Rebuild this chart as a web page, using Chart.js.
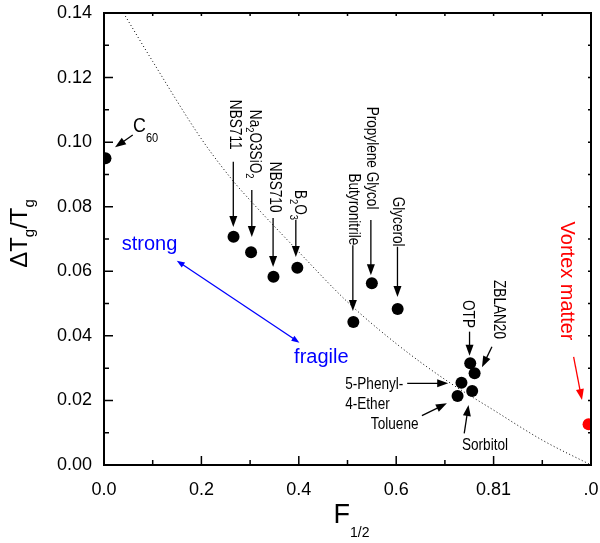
<!DOCTYPE html>
<html><head><meta charset="utf-8">
<script src="https://cdn.jsdelivr.net/npm/chart.js@4.4.0/dist/chart.umd.min.js"></script>
<style>html,body{margin:0;padding:0;background:#fff}canvas{display:block}</style>
</head><body>
<canvas id="c" width="600" height="543"></canvas>
<script>
// ---- data ----
const materials = ['C60','NBS711','Na2O3SiO2','NBS710','B2O3','Butyronitrile','Propylene Glycol','Glycerol','OTP','ZBLAN20','5-Phenyl-4-Ether','Sorbitol','Toluene'];
const fragility = [0.003,0.266,0.302,0.348,0.397,0.512,0.550,0.603,0.752,0.761,0.734,0.756,0.726];
const deltaTg   = [0.095,0.0707,0.0659,0.0583,0.0611,0.0443,0.0563,0.0483,0.0315,0.0284,0.0255,0.0229,0.0214];
const vortexF  = [0.995];
const vortexDT = [0.0126];
const curveF  = [0.04,0.1,0.2,0.265,0.3,0.4,0.5,0.6,0.7,0.8,0.9,1.0];
const curveDT = [0.14,0.125,0.101,0.088,0.082,0.066,0.0505,0.0376,0.0265,0.017,0.0077,0.0];
const xTickLabels = ['0.0','0.2','0.4','0.6','0.81','.0'];
const yTickLabels = ['0.00','0.02','0.04','0.06','0.08','0.10','0.12','0.14'];

const FONT = '"Liberation Sans", Arial, Helvetica, sans-serif';

// annotation texts (anchored in data units)
const notes = [
  {runs:[{t:'C'},{t:'60',sub:true}], at:[0.0596,0.1031], size:21, subSize:13, subShift:10},
  {runs:[{t:'NBS711'}], at:[0.2589,0.1131], rot:90},
  {runs:[{t:'Na'},{t:'2',sub:true},{t:'O3SiO'},{t:'2',sub:true}], at:[0.3004,0.1100], rot:90},
  {runs:[{t:'NBS710'}], at:[0.3414,0.0939], rot:90},
  {runs:[{t:'B'},{t:'2',sub:true},{t:'O'},{t:'3',sub:true}], at:[0.3914,0.0852], rot:90},
  {runs:[{t:'Propylene Glycol'}], at:[0.5394,0.1110], rot:90},
  {runs:[{t:'Butyronitrile'}], at:[0.5024,0.0903], rot:90},
  {runs:[{t:'Glycerol'}], at:[0.5927,0.0831], rot:90},
  {runs:[{t:'OTP'}], at:[0.7366,0.0511], rot:90},
  {runs:[{t:'ZBLAN20'}], at:[0.8003,0.0573], rot:90},
  {runs:[{t:'5-Phenyl-'}], at:[0.4952,0.0235]},
  {runs:[{t:'4-Ether'}], at:[0.4952,0.0173]},
  {runs:[{t:'Toluene'}], at:[0.6458,0.0110], align:'right'},
  {runs:[{t:'Sorbitol'}], at:[0.7350,0.0048]},
  {runs:[{t:'strong'}], at:[0.0364,0.0666], size:20, sx:1, color:'#0000ff'},
  {runs:[{t:'fragile'}], at:[0.3904,0.0316], size:20, sx:1, color:'#0000ff'},
  {runs:[{t:'Vortex matter'}], at:[0.938,0.0754], size:20, sx:1, color:'#ff0000', rot:90}
];
const arrows = [
  {from:[0.059,0.1022], to:[0.0226,0.0984]},
  {from:[0.2655,0.0939], to:[0.2655,0.0737]},
  {from:[0.3035,0.0852], to:[0.3035,0.0706]},
  {from:[0.3472,0.0765], to:[0.3472,0.0613]},
  {from:[0.3939,0.0759], to:[0.3939,0.0644]},
  {from:[0.5480,0.0759], to:[0.5480,0.0588]},
  {from:[0.5110,0.0681], to:[0.5110,0.0477]},
  {from:[0.6026,0.0676], to:[0.6026,0.0520]},
  {from:[0.7506,0.0413], to:[0.7506,0.0338]},
  {from:[0.7966,0.0366], to:[0.7761,0.0303]},
  {from:[0.6226,0.0253], to:[0.7068,0.0253]},
  {from:[0.6528,0.0153], to:[0.7041,0.0191]},
  {from:[0.7397,0.0098], to:[0.7485,0.0186]},
  {from:[0.9643,0.0335], to:[0.9815,0.0201], color:'#ff0000'},
  {from:[0.1494,0.0633], to:[0.4013,0.0379], color:'#0000ff', both:true, head:8, half:3}
];

function drawRuns(ctx, runs, x, y, o) {
  const size = o.size || 16, sx = o.sx || 0.85;
  const subSize = o.subSize || Math.round(size*0.68), subShift = o.subShift || size*0.28;
  ctx.save();
  ctx.translate(x, y);
  ctx.rotate((o.rot || 0) * Math.PI / 180);
  ctx.scale(sx, 1);
  ctx.fillStyle = o.color || '#000';
  ctx.textBaseline = 'alphabetic';
  ctx.textAlign = 'left';
  let w = 0;
  for (const r of runs) { ctx.font = (r.sub ? subSize : size) + 'px ' + FONT; w += ctx.measureText(r.t).width; }
  let cx = o.align === 'right' ? -w : (o.align === 'center' ? -w/2 : 0);
  for (const r of runs) {
    ctx.font = (r.sub ? subSize : size) + 'px ' + FONT;
    ctx.fillText(r.t, cx, r.sub ? subShift : 0);
    cx += ctx.measureText(r.t).width;
  }
  ctx.restore();
}
function head(ctx, p, ang, L, W) {
  const c = Math.cos(ang), s = Math.sin(ang);
  ctx.beginPath();
  ctx.moveTo(p[0], p[1]);
  ctx.lineTo(p[0] - L*c + W*s, p[1] - L*s - W*c);
  ctx.lineTo(p[0] - L*c - W*s, p[1] - L*s + W*c);
  ctx.closePath();
  ctx.fill();
}
function drawArrow(ctx, a, b, o) {
  const L = o.head || 11, W = o.half || 4;
  const ang = Math.atan2(b[1]-a[1], b[0]-a[0]);
  const c = Math.cos(ang), s = Math.sin(ang);
  ctx.save();
  ctx.strokeStyle = ctx.fillStyle = o.color || '#000';
  ctx.lineWidth = 1.3;
  ctx.beginPath();
  const a2 = o.both ? [a[0] + (L-2)*c, a[1] + (L-2)*s] : a;
  ctx.moveTo(a2[0], a2[1]);
  ctx.lineTo(b[0] - (L-2)*c, b[1] - (L-2)*s);
  ctx.stroke();
  head(ctx, b, ang, L, W);
  if (o.both) head(ctx, a, ang + Math.PI, L, W);
  ctx.restore();
}

const annotate = {
  id: 'annotate',
  afterDatasetsDraw(chart) {
    const ctx = chart.ctx, xs = chart.scales.x, ys = chart.scales.y;
    const P = v => [xs.getPixelForValue(v[0]), ys.getPixelForValue(v[1])];
    for (const n of notes) { const p = P(n.at); drawRuns(ctx, n.runs, p[0], p[1], n); }
    for (const a of arrows) drawArrow(ctx, P(a.from), P(a.to), a);
  },
  afterDraw(chart) {
    const ctx = chart.ctx, A = chart.chartArea, xs = chart.scales.x, ys = chart.scales.y;
    ctx.save();
    ctx.strokeStyle = '#000';
    ctx.lineWidth = 1.5;
    ctx.beginPath();
    xs.ticks.forEach((t, i) => {
      const x = xs.getPixelForValue(t.value);
      const len = i % 2 === 0 ? 9 : 5;
      ctx.moveTo(x, A.bottom); ctx.lineTo(x, A.bottom - len);
      ctx.moveTo(x, A.top); ctx.lineTo(x, A.top + 3);
    });
    ys.ticks.forEach((t, i) => {
      const y = ys.getPixelForValue(t.value);
      const len = i % 2 === 0 ? 9 : 5;
      ctx.moveTo(A.left, y); ctx.lineTo(A.left + len, y);
      ctx.moveTo(A.right, y); ctx.lineTo(A.right - 3, y);
    });
    ctx.stroke();
    ctx.lineWidth = 2;
    ctx.strokeRect(A.left, A.top, A.right - A.left, A.bottom - A.top);
    ctx.restore();
    drawRuns(ctx, [{t:'ΔT'},{t:'g',sub:true},{t:'/T'},{t:'g',sub:true}], 27, 233.5,
      {size:24, sx:1, rot:-90, align:'center', subSize:15, subShift:7});
    drawRuns(ctx, [{t:'F'},{t:'1/2',sub:true}], (A.left + A.right)/2 - 14, 523,
      {size:27, sx:1, subSize:14, subShift:13.5});
  }
};

new Chart(document.getElementById('c'), {
  type: 'scatter',
  data: {
    datasets: [
      { label: 'curve', data: curveF.map((f, i) => ({x: f, y: curveDT[i]})), showLine: true,
        borderColor: '#000', borderWidth: 1, borderDash: [1, 2.5], pointRadius: 0,
        cubicInterpolationMode: 'monotone', clip: 0 },
      { label: 'glasses', data: fragility.map((f, i) => ({x: f, y: deltaTg[i]})),
        backgroundColor: '#000', borderColor: '#000', borderWidth: 0, pointRadius: 6, clip: 0 },
      { label: 'vortex', data: vortexF.map((f, i) => ({x: f, y: vortexDT[i]})),
        backgroundColor: '#ff0000', borderColor: '#ff0000', borderWidth: 0, pointRadius: 6, clip: 0 }
    ]
  },
  options: {
    responsive: false, animation: false, events: [],
    layout: { padding: { top: 13, right: 9, left: 0, bottom: 0 } },
    plugins: { legend: { display: false }, tooltip: { enabled: false } },
    scales: {
      x: {
        type: 'linear', min: 0, max: 1,
        grid: { display: false, drawTicks: false }, border: { display: false },
        ticks: { stepSize: 0.1, autoSkip: false, maxRotation: 0, padding: 14, color: '#000',
          font: { family: FONT, size: 18 },
          callback: (v, i) => (i % 2 === 0 ? xTickLabels[i/2] : '') },
        afterFit: s => { s.height = 78; s.paddingLeft = 0; s.paddingRight = 0; }
      },
      y: {
        type: 'linear', min: 0, max: 0.14,
        grid: { display: false, drawTicks: false }, border: { display: false },
        ticks: { stepSize: 0.01, autoSkip: false, padding: 12, color: '#000',
          font: { family: FONT, size: 18 },
          callback: (v, i) => (i % 2 === 0 ? yTickLabels[i/2] : '') },
        afterFit: s => { s.width = 104; s.paddingTop = 0; s.paddingBottom = 0; }
      }
    }
  },
  plugins: [annotate]
});
</script>
</body></html>
